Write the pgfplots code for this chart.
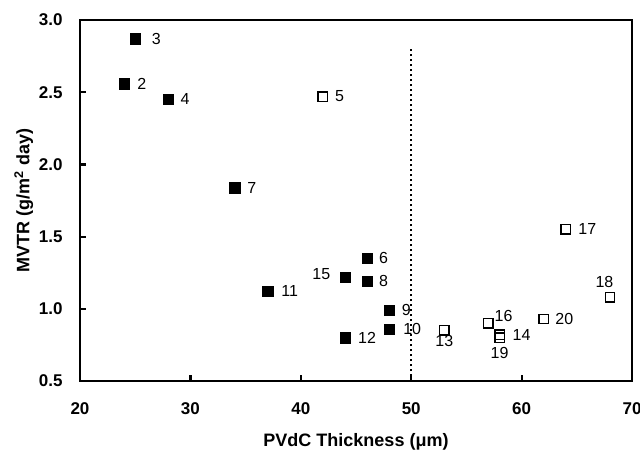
\documentclass[border=0pt]{standalone}
\usepackage{pgfplots}
\pgfplotsset{compat=1.18}
\usepackage{fontspec}
\setmainfont{Liberation Sans}

% filled squares: samples 2-4, 6-12, 15; open squares: 5, 13, 14, 16-20
\pgfplotstableread{
x  y
24 2.56
25 2.87
28 2.45
46 1.35
34 1.84
46 1.19
48 0.99
48 0.86
37 1.12
44 0.80
44 1.22
}\filled
\pgfplotstableread{
x  y
42 2.47
53 0.85
58 0.82
57 0.90
64 1.55
68 1.08
58 0.80
62 0.93
}\opensq

\newcommand{\lab}{\fontsize{16}{19}\selectfont}

\begin{document}
\begin{tikzpicture}
\begin{axis}[
  scale only axis,
  width=552pt,
  height=361pt,
  xmin=20, xmax=70,
  ymin=0.5, ymax=3.0,
  xtick={20,30,40,50,60,70},
  xticklabels={20,30,40,50,60,70},
  ytick={0.5,1.0,1.5,2.0,2.5,3.0},
  yticklabels={0.5,1.0,1.5,2.0,2.5,3.0},
  xtick pos=bottom,
  ytick pos=left,
  tick align=inside,
  major tick length=6pt,
  axis line style={draw=none},
  tick style={line width=2.2pt,black},
  ticklabel style={font=\fontsize{17}{20}\selectfont\bfseries},
  xticklabel shift=18pt,
  yticklabel shift=14pt,
  xlabel={\textbf{PVdC Thickness (μm)}},
  ylabel={\textbf{MVTR (g/m\textsuperscript{2} day)}},
  label style={font=\fontsize{18}{21}\selectfont},
  xlabel style={at={(axis description cs:0.5,-0.168)},anchor=center},
  ylabel style={at={(axis description cs:-0.102,0.5)},anchor=center},
  clip=false,
]
\draw[line width=2.6pt,line join=miter] (rel axis cs:0,0) rectangle (rel axis cs:1,1);

\addplot[black,line width=1.8pt,dash pattern=on 2pt off 3pt]
  coordinates {(50,0.5) (50,2.81)};

\addplot[only marks,mark=square*,mark size=5.2pt,
  mark options={fill=black,draw=black,line width=0.4pt}] table[x=x,y=y] {\filled};
\addplot[only marks,mark=square,mark size=4.7pt,
  mark options={draw=black,line width=1.4pt,fill=white}] table[x=x,y=y] {\opensq};

\begin{scope}[every node/.style={font=\lab,inner sep=0pt}]
\node[anchor=west,xshift=16.5pt] at (axis cs:25,2.87) {3};
\node[anchor=west,xshift=13pt] at (axis cs:24,2.56) {2};
\node[anchor=west,xshift=12pt] at (axis cs:28,2.45) {4};
\node[anchor=west,xshift=12pt] at (axis cs:42,2.47) {5};
\node[anchor=west,xshift=12.5pt] at (axis cs:34,1.84) {7};
\node[anchor=west,xshift=12pt] at (axis cs:46,1.35) {6};
\node[anchor=west,xshift=12pt] at (axis cs:46,1.19) {8};
\node[anchor=east,xshift=-14.5pt,yshift=3pt] at (axis cs:44,1.22) {15};
\node[anchor=west,xshift=13.5pt] at (axis cs:37,1.12) {11};
\node[anchor=west,xshift=12.5pt] at (axis cs:48,0.99) {9};
\node[anchor=west,xshift=14pt] at (axis cs:48,0.86) {10};
\node[anchor=west,xshift=13pt] at (axis cs:44,0.80) {12};
\node[anchor=north,yshift=-4.5pt] at (axis cs:53,0.85) {13};
\node[anchor=west,xshift=12.5pt] at (axis cs:64,1.55) {17};
\node[anchor=south,xshift=-5.5pt,yshift=9.5pt] at (axis cs:68,1.08) {18};
\node[anchor=south west,xshift=6pt,yshift=1.5pt] at (axis cs:57,0.90) {16};
\node[anchor=west,xshift=11.5pt] at (axis cs:62,0.93) {20};
\node[anchor=west,xshift=13pt] at (axis cs:58,0.82) {14};
\node[anchor=north,yshift=-9pt] at (axis cs:58,0.80) {19};
\end{scope}
\end{axis}
\pgfresetboundingbox
\useasboundingbox ([shift={(-80pt,-70pt)}]current axis.south west)
  rectangle ([shift={(8pt,20pt)}]current axis.north east);
\end{tikzpicture}
\end{document}
